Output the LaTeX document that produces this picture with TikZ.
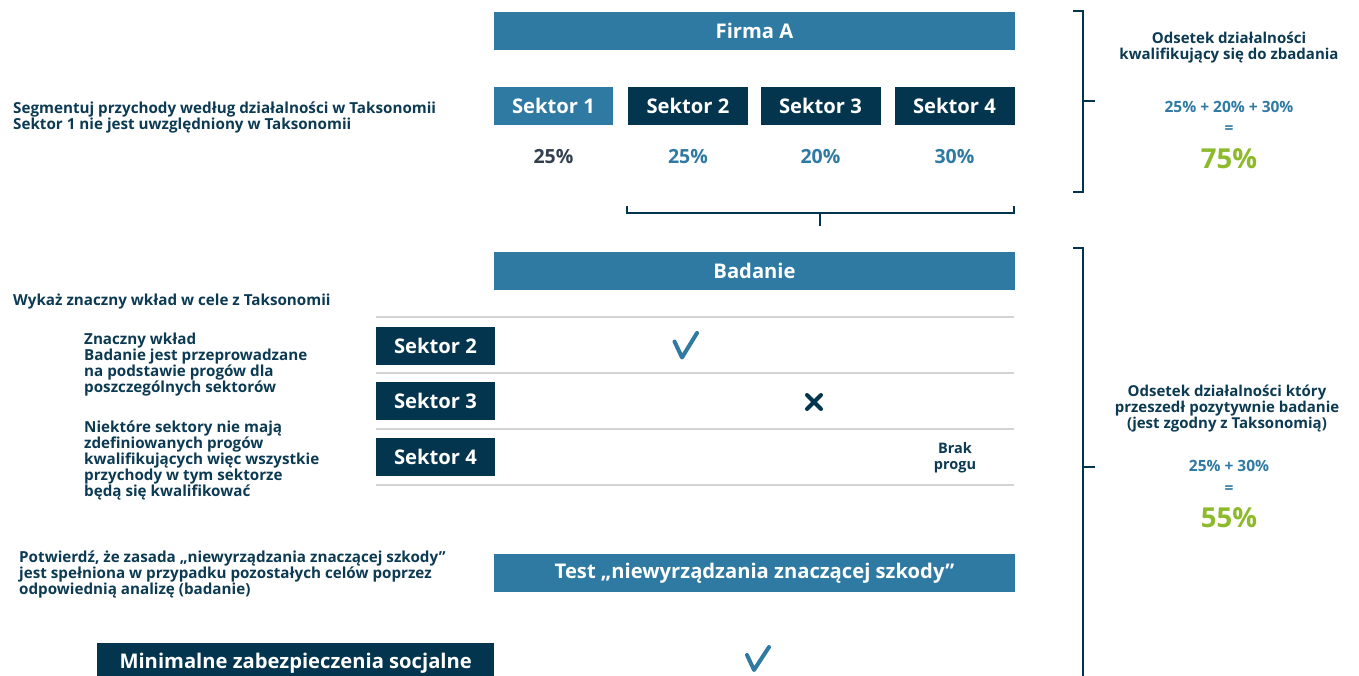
\documentclass[tikz,border=0pt]{standalone}
\usepackage{fontspec}
\setmainfont{Open Sans}
\definecolor{cblue}{HTML}{2F7AA3}
\definecolor{cdark}{HTML}{03354E}
\definecolor{cgreen}{HTML}{8CBA2B}
\definecolor{cgray}{HTML}{D3D3D3}
\definecolor{ctext}{HTML}{0B3A52}
\definecolor{cgrey}{HTML}{333F4F}
\begin{document}
\begin{tikzpicture}[x=1pt,y=-1pt,
  box/.style={inner sep=0pt, minimum height=38pt, text=white, font=\fontsize{20.2}{24}\selectfont\bfseries},
  bluebox/.style={box, fill=cblue},
  darkbox/.style={box, fill=cdark, minimum width=120pt},
  pct/.style={font=\fontsize{19.5}{22}\selectfont\bfseries, text=cblue},
  lefttxt/.style={anchor=north west, align=left, inner sep=0pt, text=ctext, font=\fontsize{15.2}{16}\selectfont\bfseries},
  righttxt/.style={align=center, inner sep=0pt, text=ctext, font=\fontsize{15}{16}\selectfont\bfseries},
  sum/.style={inner sep=0pt, text=cblue, font=\fontsize{15.5}{16}\selectfont\bfseries},
  total/.style={inner sep=0pt, text=cgreen, font=\fontsize{27.5}{30}\selectfont\bfseries},
  brk/.style={draw=cdark, line width=2.6pt},
  sep/.style={draw=cgray, line width=2pt},
  tick/.style={line width=4pt, line cap=round, line join=round}
]
\useasboundingbox (0,0) rectangle (1359,676);

% top block
\node[bluebox, minimum width=521pt] (firma) at (754.5,31) {Firma A};
\node[bluebox, minimum width=119pt] (s1) at (553.5,106) {Sektor 1};
\node[darkbox] (s2) at (688,106) {Sektor 2};
\node[darkbox] (s3) at (820.5,106) {Sektor 3};
\node[darkbox] (s4) at (954.5,106) {Sektor 4};
\node[pct, text=cgrey] (p1) at (553.5,157) {25\%};
\node[pct] (p2) at (688,157) {25\%};
\node[pct] (p3) at (820.5,157) {20\%};
\node[pct] (p4) at (954.5,157) {30\%};
\draw[brk] (627,206) -- (627,213) -- (1014,213) -- (1014,206);
\draw[brk] (820,213) -- (820,226);

\node[lefttxt] (seg) at (13,101.5) {Segmentuj przychody według działalności w Taksonomii\\Sektor 1 nie jest uwzględniony w Taksonomii};

% right bracket 1
\draw[brk] (1073,11) -- (1083,11) -- (1083,192) -- (1073,192);
\draw[brk] (1083,101) -- (1095,101);
\node[righttxt] (r1) at (1229,48) {Odsetek działalności\\kwalifikujący się do zbadania};
\node[sum] (sum1) at (1229,107) {25\% + 20\% + 30\%};
\node[sum] (eq1) at (1229,130) {=};
\node[total] (t1) at (1229,159) {75\%};

% Badanie block
\node[bluebox, minimum width=521pt] (bad) at (754.5,271) {Badanie};
\node[lefttxt] (wyk) at (13,293.5) {Wykaż znaczny wkład w cele z Taksonomii};
\draw[sep] (376,317) -- (1014,317);
\draw[sep] (376,373) -- (1014,373);
\draw[sep] (376,429) -- (1014,429);
\draw[sep] (376,485) -- (1014,485);
\node[darkbox, minimum width=119pt] (b2) at (435.5,345.5) {Sektor 2};
\node[darkbox, minimum width=119pt] (b3) at (435.5,400.5) {Sektor 3};
\node[darkbox, minimum width=119pt] (b4) at (435.5,456.5) {Sektor 4};
\draw[tick, cblue] (674.5,341.5) -- (682,357.5) -- (697,333);
\draw[tick, cdark] (807,395) -- (821,409) (821,395) -- (807,409);
\node[righttxt, font=\fontsize{14.5}{16}\selectfont\bfseries] (brak) at (955,458) {Brak\\progu};

\node[lefttxt] (zn) at (84,332.5) {Znaczny wkład\\Badanie jest przeprowadzane\\na podstawie progów dla\\poszczególnych sektorów};
\node[lefttxt] (nie) at (84,420.5) {Niektóre sektory nie mają\\zdefiniowanych progów\\kwalifikujących więc wszystkie\\przychody w tym sektorze\\będą się kwalifikować};

% right bracket 2
\draw[brk] (1073,248) -- (1083,248) -- (1083,677);
\draw[brk] (1083,467) -- (1095,467);
\node[righttxt] (r2) at (1227,409) {Odsetek działalności który\\przeszedł pozytywnie badanie\\(jest zgodny z Taksonomią)};
\node[sum] (sum2) at (1229,466) {25\% + 30\%};
\node[sum] (eq2) at (1229,490) {=};
\node[total] (t2) at (1229,518) {55\%};

% DNSH
\node[lefttxt] (pot) at (19,550.5) {Potwierdź, że zasada „niewyrządzania znaczącej szkody”\\jest spełniona w przypadku pozostałych celów poprzez\\odpowiednią analizę (badanie)};
\node[bluebox, minimum width=521pt] (test) at (754.5,573) {Test „niewyrządzania znaczącej szkody”};

% minimum safeguards
\node[darkbox, minimum width=397pt, minimum height=40pt, anchor=north west] (min) at (97,643) {\raisebox{-3pt}{Minimalne zabezpieczenia socjalne}};
\draw[tick, cblue] (747,655) -- (754,670) -- (769,647);
\end{tikzpicture}
\end{document}
